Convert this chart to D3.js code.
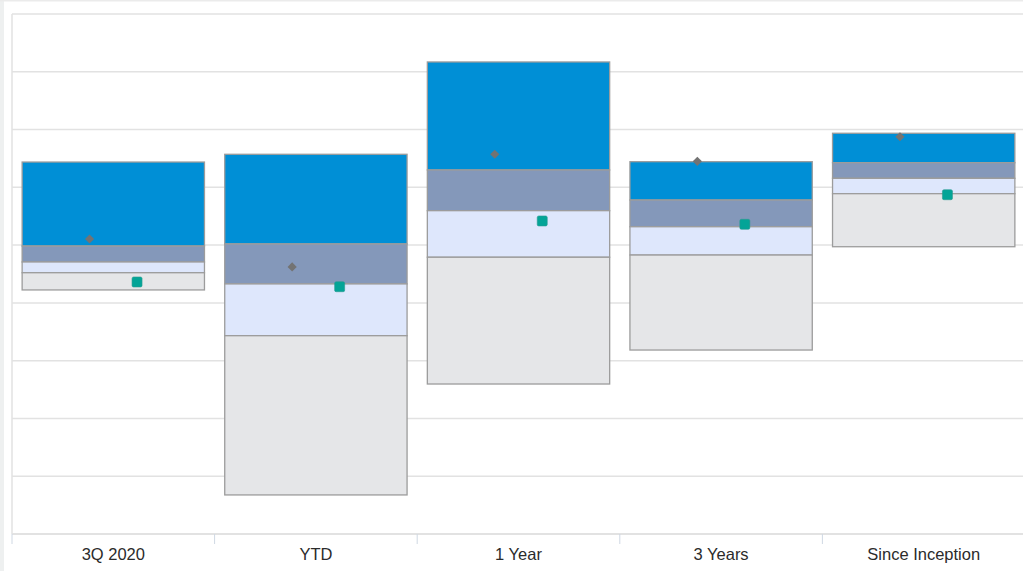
<!DOCTYPE html>
<html>
<head>
<meta charset="utf-8">
<script src="https://cdn.jsdelivr.net/npm/d3@7"></script>
<style>
  body { margin: 0; background: #fff; }
  svg { display: block; }
</style>
</head>
<body>
<svg id="chart"></svg>
<script>
const categories = ["3Q 2020", "YTD", "1 Year", "3 Years", "Since Inception"];

// percentile bands, top to bottom
const p5  = [-2.81, -2.14,  5.85, -2.78, -0.32];
const p25 = [-10.08, -9.90, -3.50, -6.10, -2.87];
const p50 = [-11.46, -13.36, -7.02, -8.41, -4.22];
const p75 = [-12.39, -17.84, -11.05, -10.86, -5.55];
const p95 = [-13.88, -31.62, -22.02, -19.08, -10.14];

const fund = [-9.47, -11.89, -2.14, -2.75, -0.62];
const benchmark = [-13.19, -13.60, -7.91, -8.20, -5.64];

const yTicks = [-35, -30, -25, -20, -15, -10, -5, 0, 5, 10];

const width = 1023;
const height = 571;
const plotLeft = 12, plotRight = 1025, plotTop = 14, plotBottom = 534;

const bandColors = ["#008fd6", "#8498ba", "#dee7fc", "#e5e6e8"];

const svg = d3.select("#chart")
  .attr("width", width)
  .attr("height", height);

// outer frame
svg.append("rect").attr("x", 0).attr("y", 0).attr("width", 4).attr("height", height).attr("fill", "#eef0f0");
svg.append("rect").attr("x", 0).attr("y", 0).attr("width", width).attr("height", 1.5).attr("fill", "#ebebeb");

const xScale = d3.scaleBand()
  .domain(categories)
  .range([plotLeft, plotRight])
  .paddingInner(0.1)
  .paddingOuter(0.05);

const yScale = d3.scaleLinear()
  .domain([-35, 10])
  .range([plotBottom, plotTop]);

const markScale = d3.scalePoint()
  .domain(["fund", "benchmark"])
  .range([0, xScale.bandwidth()])
  .padding(1.42);

// gridlines
svg.append("g")
  .selectAll("line")
  .data(yTicks.slice(1))
  .enter()
  .append("line")
  .attr("x1", plotLeft)
  .attr("x2", width)
  .attr("y1", (d) => yScale(d))
  .attr("y2", (d) => yScale(d))
  .attr("stroke", "#e2e2e2")
  .attr("stroke-width", 1.5);

svg.append("line")
  .attr("x1", plotLeft).attr("x2", plotLeft)
  .attr("y1", yScale(10)).attr("y2", yScale(-35))
  .attr("stroke", "#e2e2e2")
  .attr("stroke-width", 1.5);

// floating stacked bars
const rows = categories.map((c, i) => ({
  cat: c,
  edges: [p5[i], p25[i], p50[i], p75[i], p95[i]]
}));

const groups = svg.append("g")
  .selectAll("g")
  .data(rows)
  .enter()
  .append("g");

groups.selectAll("rect")
  .data((r) => d3.range(4).map((k) => ({ cat: r.cat, hi: r.edges[k], lo: r.edges[k + 1], k: k })))
  .enter()
  .append("rect")
  .attr("x", (d) => xScale(d.cat))
  .attr("width", xScale.bandwidth())
  .attr("y", (d) => yScale(d.hi))
  .attr("height", (d) => yScale(d.lo) - yScale(d.hi))
  .attr("fill", (d) => bandColors[d.k])
  .attr("stroke", "#9c9c9c")
  .attr("stroke-width", 1.3);

// x axis
const xAxis = d3.axisBottom(xScale).tickSize(0).tickPadding(14);
const axisG = svg.append("g")
  .attr("transform", "translate(0, " + plotBottom + ")")
  .call(xAxis);
axisG.select(".domain").remove();
axisG.selectAll("text")
  .attr("fill", "#2b2b2b")
  .style("font-family", "'Liberation Sans', Arial, sans-serif")
  .style("font-size", "16.5px");

svg.append("line")
  .attr("x1", plotLeft).attr("x2", width)
  .attr("y1", plotBottom).attr("y2", plotBottom)
  .attr("stroke", "#e2e2e2")
  .attr("stroke-width", 2);

const gap = xScale.step() - xScale.bandwidth();
svg.append("g")
  .selectAll("line")
  .data(categories)
  .enter()
  .append("line")
  .attr("x1", (c) => xScale(c) - gap / 2)
  .attr("x2", (c) => xScale(c) - gap / 2)
  .attr("y1", plotBottom)
  .attr("y2", plotBottom + 10)
  .attr("stroke", "#cfd8e3")
  .attr("stroke-width", 1);

// fund markers (diamonds)
svg.append("g")
  .selectAll("path")
  .data(fund)
  .enter()
  .append("path")
  .attr("d", d3.symbol(d3.symbolSquare, 42))
  .attr("transform", (d, i) => "translate(" + (xScale(categories[i]) + markScale("fund")) + "," + yScale(d) + ") rotate(45)")
  .attr("fill", "#737373");

// benchmark markers (squares)
svg.append("g")
  .selectAll("rect")
  .data(benchmark)
  .enter()
  .append("rect")
  .attr("x", (d, i) => xScale(categories[i]) + markScale("benchmark") - 5)
  .attr("y", (d) => yScale(d) - 5)
  .attr("width", 10)
  .attr("height", 10)
  .attr("rx", 1.5)
  .attr("fill", "#03a497")
  .attr("stroke", "#2a9a90")
  .attr("stroke-width", 0.6);
</script>
</body>
</html>
